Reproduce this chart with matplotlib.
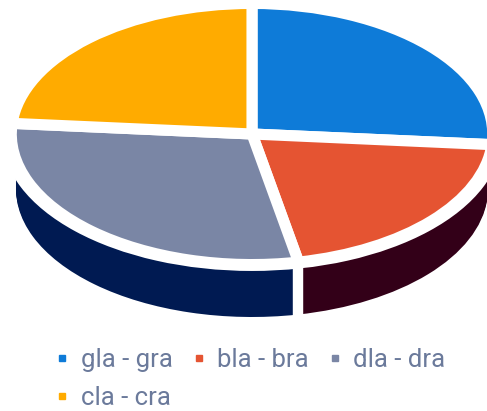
import matplotlib
matplotlib.use('Agg')
import matplotlib.pyplot as plt
from matplotlib.lines import Line2D
import numpy as np

labels = ['gla - gra', 'bla - bra', 'dla - dra', 'cla - cra']
values = [26.3, 20.6, 29.4, 23.7]
colors = ['#0e7bd8', '#e55432', '#7a86a5', '#ffab00']
side_colors = ['#084a82', '#330018', '#001a52', '#996700']
text_color = '#6b7a9b'

W, H = 487, 411
cx, cy = 252, 134    # pie centre in pixels
rx, ry = 236, 128    # pixels per pie radius
depth = 55 / ry

plt.rcParams['font.family'] = ['Roboto', 'DejaVu Sans']
fig = plt.figure(figsize=(W / 100, H / 100), dpi=100)
ax = fig.add_axes([0, 0, 1, 1])

# side wall: same pie stacked downwards
for off in np.linspace(depth, 0, 40):
    ax.pie(values, colors=side_colors, startangle=90, counterclock=False,
           center=(0, -off), radius=1.0, wedgeprops={'linewidth': 0})

# white gap between the two visible side pieces
edge = np.deg2rad(90 - 360 * sum(values[:2]) / sum(values))
ax.plot([np.cos(edge)] * 2, [np.sin(edge) - depth - 0.1, np.sin(edge)],
        color='white', lw=7.5, solid_capstyle='butt')

# white ring under the top face
ax.pie([1], colors=['white'], radius=1.06, center=(0, -0.01),
       wedgeprops={'linewidth': 0, 'edgecolor': 'white'})
ax.set_aspect('auto')

# top face
ax.pie(values, colors=colors, startangle=90, counterclock=False, radius=1.02,
       wedgeprops={'linewidth': 8, 'edgecolor': 'white', 'joinstyle': 'miter'})

ax.set_aspect('auto')
ax.set_xlim(-cx / rx, (W - cx) / rx)
ax.set_ylim(-(H - cy) / ry, cy / ry)

handles = [Line2D([], [], marker='s', ls='', color=c, markersize=5) for c in colors]
# legend fills by column, so reorder to get three on the first row
order = [0, 3, 1, 2]
fig.legend([handles[i] for i in order], [labels[i] for i in order], ncol=3,
           loc='lower left', bbox_to_anchor=(0.113, 0.0), frameon=False, fontsize=18.5,
           labelcolor=text_color, handlelength=0.5, handletextpad=0.47,
           columnspacing=0.76, labelspacing=0.55, borderpad=0.03, borderaxespad=0.0)

fig.savefig('out.png', dpi=100)
